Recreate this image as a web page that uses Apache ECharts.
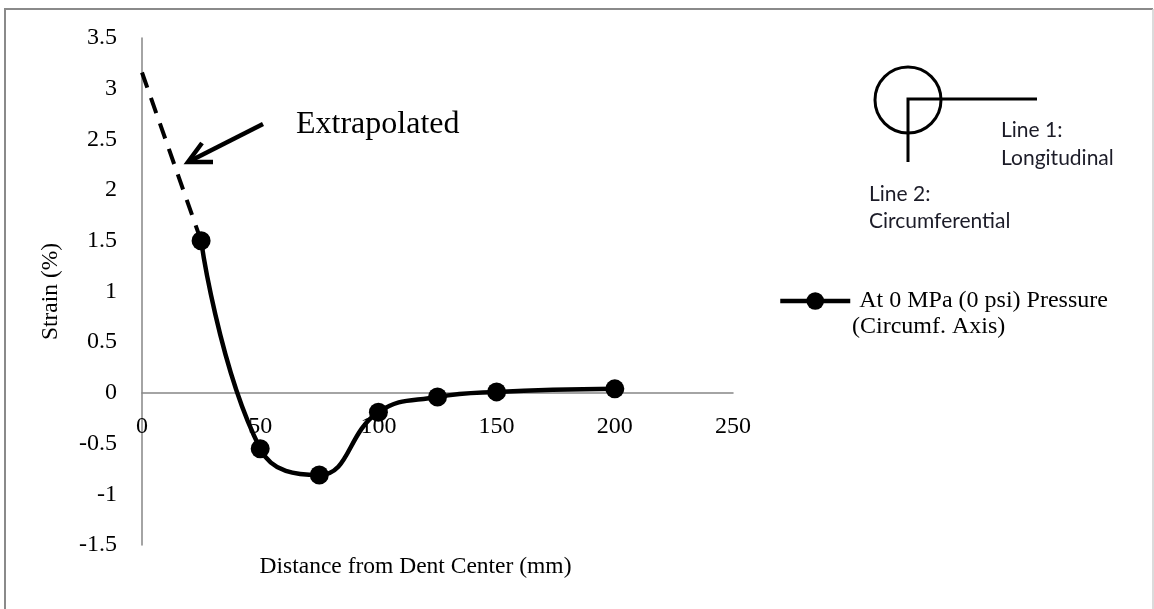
<!DOCTYPE html>
<html>
<head>
<meta charset="utf-8">
<script src="https://cdn.jsdelivr.net/npm/echarts@6/dist/echarts.min.js"></script>
<style>
html,body{margin:0;padding:0;background:#fff;}
#chart{width:1154px;height:609px;}
</style>
</head>
<body>
<div id="chart"></div>
<script>
// ---- data ----
const distances = [25, 50, 75, 100, 125, 150, 200];
const strain = [1.5, -0.55, -0.81, -0.19, -0.04, 0.01, 0.04];
const extrapDistances = [0, 25];
const extrapStrain = [3.16, 1.5];
const seriesName = 'At 0 MPa (0 psi) Pressure (Circumf. Axis)';
const legendLine1 = 'At 0 MPa (0 psi) Pressure';
const legendLine2 = '(Circumf. Axis)';
const xAxisTitle = 'Distance from Dent Center (mm)';
const yAxisTitle = 'Strain (%)';
const annotationText = 'Extrapolated';

const serif = '"Liberation Serif", "Times New Roman", serif';
const sans = 'Lato, "Noto Sans", sans-serif';

const gridTop = 38, gridBottom = 64, H = 609;
const yMin = -1.5, yMax = 3.5;
// place x axis where y = 0 (bottom axis shifted upward)
const plotH = H - gridTop - gridBottom;
const zeroOffset = -plotH * (0 - yMin) / (yMax - yMin);

const chart = echarts.init(document.getElementById('chart'));
chart.setOption({
  animation: false,
  backgroundColor: '#fff',
  grid: {left: 142, right: 421, top: gridTop, bottom: gridBottom, containLabel: false, outerBoundsMode: 'none'},
  xAxis: {
    type: 'value', min: 0, max: 250, interval: 50,
    offset: zeroOffset,
    name: xAxisTitle, nameLocation: 'middle', nameGap: 162,
    nameTextStyle: {fontFamily: serif, fontSize: 23.5, color: '#000', padding: [0, 44, 0, 0]},
    axisLine: {onZero: false, lineStyle: {color: '#868686', width: 1.5}},
    axisTick: {show: false},
    splitLine: {show: false},
    axisLabel: {fontFamily: serif, fontSize: 24, color: '#000', margin: 22, hideOverlap: false}
  },
  yAxis: {
    type: 'value', min: yMin, max: yMax, interval: 0.5,
    name: yAxisTitle, nameLocation: 'middle', nameGap: 79, nameRotate: 90,
    nameTextStyle: {fontFamily: serif, fontSize: 23.5, color: '#000'},
    axisLine: {show: true, lineStyle: {color: '#868686', width: 1.5}},
    axisTick: {show: false},
    splitLine: {show: false},
    axisLabel: {fontFamily: serif, fontSize: 24, color: '#000', margin: 25, hideOverlap: false}
  },
  legend: {
    left: 778, top: 289, padding: 0, itemWidth: 70, itemHeight: 22, itemGap: 0,
    data: [seriesName],
    formatter: function () { return legendLine1; },
    lineStyle: {width: 4.5, color: '#000'},
    itemStyle: {color: '#000'},
    textStyle: {fontFamily: serif, fontSize: 24, color: '#000', padding: [0, 0, 0, 4]}
  },
  series: [
    {
      name: 'extrapolated', type: 'line',
      data: extrapDistances.map((d, i) => [d, extrapStrain[i]]),
      showSymbol: false, symbol: 'none',
      lineStyle: {color: '#000', width: 4, type: [16, 11]},
      z: 2, silent: true
    },
    {
      name: seriesName, type: 'line',
      data: distances.map((d, i) => [d, strain[i]]),
      smooth: 0.45,
      symbol: 'circle', symbolSize: 19,
      itemStyle: {color: '#000'},
      lineStyle: {color: '#000', width: 4.5},
      z: 3
    }
  ],
  graphic: [
    // outer frame
    {type: 'line', shape: {x1: 4, y1: 9, x2: 1153, y2: 9}, style: {stroke: '#8a8a8a', lineWidth: 2}},
    {type: 'line', shape: {x1: 5, y1: 9, x2: 5, y2: 609}, style: {stroke: '#8a8a8a', lineWidth: 2}},
    {type: 'line', shape: {x1: 1153, y1: 9, x2: 1153, y2: 609}, style: {stroke: '#cfcfcf', lineWidth: 1.5}},
    // legend second line
    {type: 'text', left: 852, top: 315, style: {text: legendLine2, font: '24px ' + serif, fill: '#000'}},
    // annotation
    {type: 'text', left: 296, top: 109, style: {text: annotationText, font: '32px ' + serif, fill: '#000'}},
    {type: 'line', shape: {x1: 263, y1: 124, x2: 190, y2: 161}, style: {stroke: '#000', lineWidth: 4.5}},
    {type: 'polyline', shape: {points: [[202, 143], [188, 162], [213, 162]]}, style: {stroke: '#000', lineWidth: 4.5, fill: null, lineJoin: 'miter'}},
    // inset diagram
    {type: 'circle', shape: {cx: 908, cy: 100, r: 33}, style: {stroke: '#000', lineWidth: 3, fill: null}},
    {type: 'polyline', shape: {points: [[1037, 99], [908, 99], [908, 162]]}, style: {stroke: '#000', lineWidth: 3, fill: null}},
    {type: 'text', left: 1001, top: 120, style: {text: 'Line 1:', font: '21px ' + sans, fill: '#1c1c28'}},
    {type: 'text', left: 1001, top: 148, style: {text: 'Longitudinal', font: '21px ' + sans, fill: '#1c1c28'}},
    {type: 'text', left: 869, top: 184, style: {text: 'Line 2:', font: '21px ' + sans, fill: '#1c1c28'}},
    {type: 'text', left: 869, top: 211, style: {text: 'Circumferential', font: '21px ' + sans, fill: '#1c1c28'}}
  ]
});
</script>
</body>
</html>
